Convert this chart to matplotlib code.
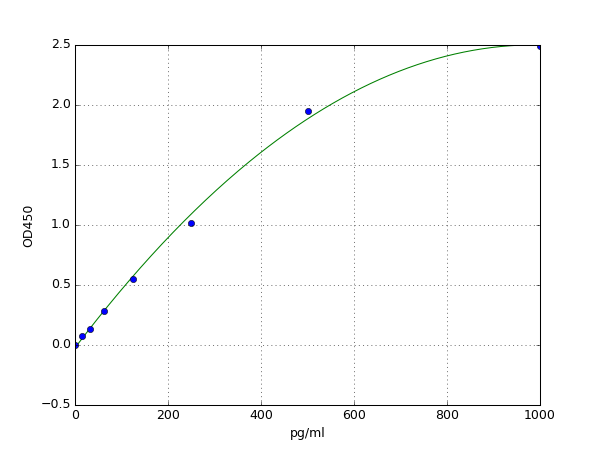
import numpy as np
import matplotlib
matplotlib.use("Agg")
import matplotlib.pyplot as plt

plt.style.use("classic")

conc = [0, 15.6, 31.25, 62.5, 125, 250, 500, 1000]
od = [0.0, 0.073, 0.136, 0.286, 0.553, 1.017, 1.948, 2.49]

coef = np.polyfit(conc, od, 2)
xs = np.linspace(0, 1000, 300)
ys = np.polyval(coef, xs)

fig = plt.figure(figsize=(8, 6), dpi=75)
ax = fig.add_subplot(111)
ax.plot(xs, ys, "g-")
ax.plot(conc, od, "bo", markersize=6)
ax.set_xlim(0, 1000)
ax.set_ylim(-0.5, 2.5)
ax.grid(True)
ax.set_xlabel("pg/ml")
ax.set_ylabel("OD450")
fig.savefig("out.png", dpi=75, facecolor="white")
